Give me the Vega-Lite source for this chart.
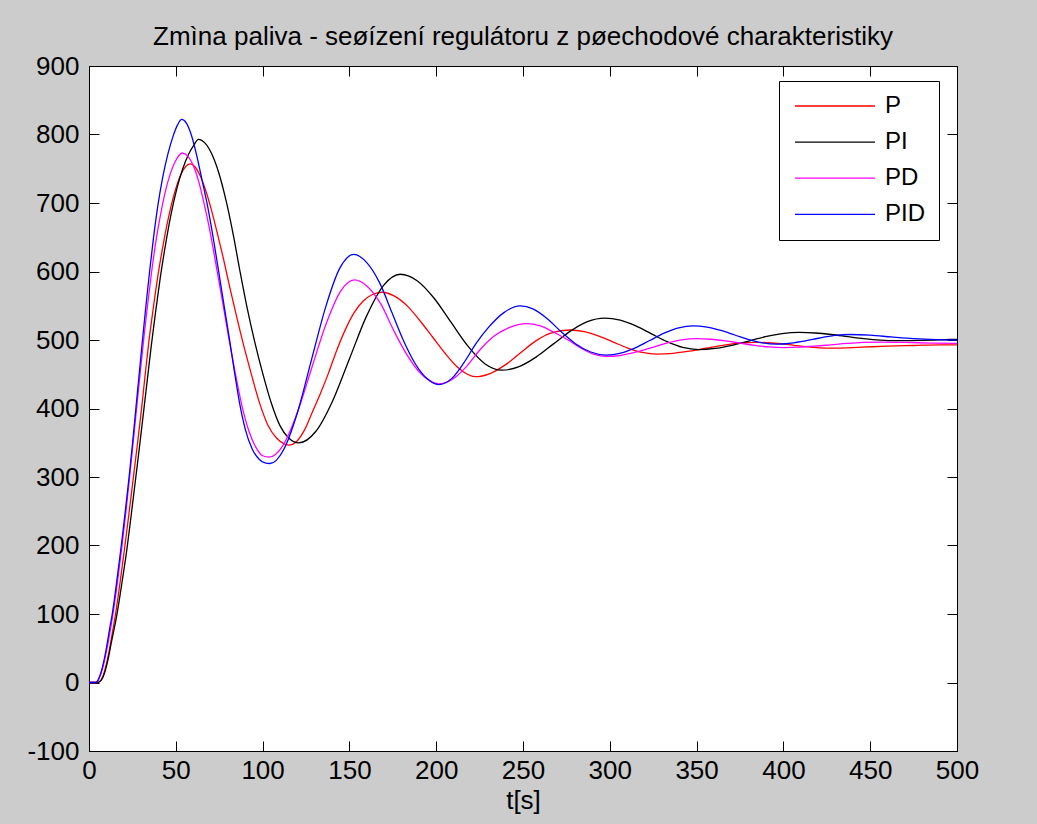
{
 "$schema": "https://vega.github.io/schema/vega-lite/v6.json",
 "width": 868, "height": 685,
 "autosize": {"type": "none"},
 "padding": {"left": 89, "top": 66, "right": 80, "bottom": 73},
 "background": "#cccccc",
 "config": {"view": {"fill": "white", "stroke": "black", "strokeWidth": 1}, "font": "Liberation Sans"},
 "title": {"text": "Zmìna paliva - seøízení regulátoru z pøechodové charakteristiky", "fontSize": 26, "fontWeight": "normal", "color": "black", "offset": 3},
 "data": {"values": [
  {"s":"P","t":0,"v":0},{"s":"P","t":5,"v":0},{"s":"P","t":7,"v":4},{"s":"P","t":9,"v":17},{"s":"P","t":11,"v":38},{"s":"P","t":13,"v":66},{"s":"P","t":15.3,"v":100},{"s":"P","t":18,"v":148},{"s":"P","t":20.5,"v":196},{"s":"P","t":23,"v":246},{"s":"P","t":25.3,"v":294},{"s":"P","t":27.8,"v":346},{"s":"P","t":30.2,"v":398},{"s":"P","t":32.3,"v":448},{"s":"P","t":34.4,"v":496},{"s":"P","t":37,"v":546},{"s":"P","t":39.7,"v":594},{"s":"P","t":43,"v":643},{"s":"P","t":46.5,"v":687},{"s":"P","t":50,"v":721},{"s":"P","t":53,"v":742},{"s":"P","t":56,"v":754},{"s":"P","t":58.4,"v":757},{"s":"P","t":61,"v":753},{"s":"P","t":64,"v":740},{"s":"P","t":67,"v":720},{"s":"P","t":70.5,"v":690},{"s":"P","t":74,"v":655},{"s":"P","t":77.5,"v":618},{"s":"P","t":81,"v":578},{"s":"P","t":84.5,"v":540},{"s":"P","t":88.5,"v":498},{"s":"P","t":93,"v":455},{"s":"P","t":98,"v":410},{"s":"P","t":103,"v":376},{"s":"P","t":108,"v":357},{"s":"P","t":112,"v":349},{"s":"P","t":115.1,"v":346.5},{"s":"P","t":120,"v":353},{"s":"P","t":124,"v":368},{"s":"P","t":128.7,"v":395},{"s":"P","t":133,"v":420},{"s":"P","t":138,"v":452},{"s":"P","t":143,"v":487},{"s":"P","t":148,"v":517},{"s":"P","t":153,"v":541},{"s":"P","t":158,"v":557},{"s":"P","t":163,"v":566},{"s":"P","t":168.8,"v":569.7},{"s":"P","t":176,"v":564},{"s":"P","t":184,"v":548},{"s":"P","t":191,"v":527},{"s":"P","t":198,"v":504},{"s":"P","t":205,"v":481},{"s":"P","t":212,"v":461},{"s":"P","t":218,"v":450},{"s":"P","t":222.4,"v":446.4},{"s":"P","t":231,"v":451},{"s":"P","t":240,"v":464},{"s":"P","t":249,"v":482},{"s":"P","t":257,"v":498},{"s":"P","t":266,"v":510},{"s":"P","t":277,"v":514.6},{"s":"P","t":285.3,"v":512.2},{"s":"P","t":293.7,"v":505.8},{"s":"P","t":302,"v":497},{"s":"P","t":310.3,"v":488.3},{"s":"P","t":318.7,"v":481.8},{"s":"P","t":327,"v":479.5},{"s":"P","t":336.5,"v":480.6},{"s":"P","t":346,"v":483.8},{"s":"P","t":355.5,"v":488},{"s":"P","t":365,"v":492.3},{"s":"P","t":374.5,"v":495.5},{"s":"P","t":384,"v":496.6},{"s":"P","t":391.3,"v":496},{"s":"P","t":398.7,"v":494.5},{"s":"P","t":406,"v":492.3},{"s":"P","t":413.3,"v":490.2},{"s":"P","t":420.7,"v":488.6},{"s":"P","t":428,"v":488},{"s":"P","t":445,"v":489.5},{"s":"P","t":460,"v":491},{"s":"P","t":475,"v":492},{"s":"P","t":490,"v":493},{"s":"P","t":500,"v":493},
  {"s":"PI","t":0,"v":0},{"s":"PI","t":5,"v":0},{"s":"PI","t":7,"v":3},{"s":"PI","t":9,"v":14},{"s":"PI","t":11,"v":34},{"s":"PI","t":13,"v":60},{"s":"PI","t":16,"v":98},{"s":"PI","t":19,"v":146},{"s":"PI","t":21.8,"v":194},{"s":"PI","t":24,"v":238},{"s":"PI","t":26.4,"v":288},{"s":"PI","t":28.8,"v":338},{"s":"PI","t":31.2,"v":390},{"s":"PI","t":33.5,"v":440},{"s":"PI","t":35.8,"v":490},{"s":"PI","t":38.3,"v":540},{"s":"PI","t":41,"v":590},{"s":"PI","t":44,"v":638},{"s":"PI","t":47.3,"v":684},{"s":"PI","t":50.5,"v":720},{"s":"PI","t":54,"v":750},{"s":"PI","t":57.5,"v":772},{"s":"PI","t":60.5,"v":785},{"s":"PI","t":63,"v":793},{"s":"PI","t":67,"v":787},{"s":"PI","t":71,"v":770},{"s":"PI","t":75,"v":742},{"s":"PI","t":79,"v":703},{"s":"PI","t":83,"v":655},{"s":"PI","t":87,"v":600},{"s":"PI","t":91,"v":548},{"s":"PI","t":95.5,"v":497},{"s":"PI","t":100,"v":452},{"s":"PI","t":105,"v":408},{"s":"PI","t":110,"v":375},{"s":"PI","t":115,"v":357},{"s":"PI","t":120.9,"v":349.9},{"s":"PI","t":130.6,"v":366.4},{"s":"PI","t":140.4,"v":411.4},{"s":"PI","t":150.1,"v":473},{"s":"PI","t":159.8,"v":534.5},{"s":"PI","t":169.6,"v":579.5},{"s":"PI","t":179.3,"v":596},{"s":"PI","t":189,"v":586.6},{"s":"PI","t":198.8,"v":561},{"s":"PI","t":208.5,"v":526},{"s":"PI","t":218.3,"v":491},{"s":"PI","t":228,"v":465.4},{"s":"PI","t":237.8,"v":456},{"s":"PI","t":247.7,"v":461.1},{"s":"PI","t":257.5,"v":475},{"s":"PI","t":267.4,"v":494},{"s":"PI","t":277.3,"v":513},{"s":"PI","t":287.1,"v":526.9},{"s":"PI","t":297,"v":532},{"s":"PI","t":306,"v":528.9},{"s":"PI","t":315,"v":520.5},{"s":"PI","t":324,"v":509},{"s":"PI","t":333,"v":497.5},{"s":"PI","t":342,"v":489.1},{"s":"PI","t":351,"v":486},{"s":"PI","t":360.7,"v":487.7},{"s":"PI","t":370.3,"v":492.3},{"s":"PI","t":380,"v":498.5},{"s":"PI","t":389.7,"v":504.8},{"s":"PI","t":399.3,"v":509.3},{"s":"PI","t":409,"v":511},{"s":"PI","t":418.3,"v":510.2},{"s":"PI","t":427.7,"v":508},{"s":"PI","t":437,"v":505},{"s":"PI","t":446.3,"v":502},{"s":"PI","t":455.7,"v":499.8},{"s":"PI","t":465,"v":499},{"s":"PI","t":480,"v":499.5},{"s":"PI","t":490,"v":500.3},{"s":"PI","t":500,"v":501},
  {"s":"PD","t":0,"v":0},{"s":"PD","t":4,"v":0},{"s":"PD","t":6,"v":7},{"s":"PD","t":8,"v":22},{"s":"PD","t":10,"v":45},{"s":"PD","t":12,"v":72},{"s":"PD","t":13.8,"v":100},{"s":"PD","t":16.3,"v":145},{"s":"PD","t":18.8,"v":195},{"s":"PD","t":21.2,"v":248},{"s":"PD","t":23.4,"v":300},{"s":"PD","t":25.5,"v":352},{"s":"PD","t":27.6,"v":405},{"s":"PD","t":29.6,"v":455},{"s":"PD","t":31.6,"v":503},{"s":"PD","t":33.7,"v":550},{"s":"PD","t":35.9,"v":596},{"s":"PD","t":38.3,"v":640},{"s":"PD","t":41,"v":680},{"s":"PD","t":44,"v":717},{"s":"PD","t":47,"v":744},{"s":"PD","t":50,"v":762},{"s":"PD","t":53.7,"v":773},{"s":"PD","t":57,"v":768},{"s":"PD","t":60,"v":755},{"s":"PD","t":63,"v":733},{"s":"PD","t":66.5,"v":697},{"s":"PD","t":70,"v":655},{"s":"PD","t":73.5,"v":605},{"s":"PD","t":77,"v":555},{"s":"PD","t":80.5,"v":503},{"s":"PD","t":84,"v":455},{"s":"PD","t":88,"v":405},{"s":"PD","t":92,"v":368},{"s":"PD","t":96,"v":344},{"s":"PD","t":100,"v":331},{"s":"PD","t":103.6,"v":329},{"s":"PD","t":111.8,"v":346.3},{"s":"PD","t":120,"v":393.7},{"s":"PD","t":128.2,"v":458.4},{"s":"PD","t":136.5,"v":523},{"s":"PD","t":144.7,"v":570.4},{"s":"PD","t":152.9,"v":587.7},{"s":"PD","t":160,"v":579},{"s":"PD","t":168,"v":553},{"s":"PD","t":175.5,"v":514},{"s":"PD","t":183,"v":479},{"s":"PD","t":190,"v":454},{"s":"PD","t":196,"v":441},{"s":"PD","t":201.3,"v":436},{"s":"PD","t":209,"v":442},{"s":"PD","t":217,"v":460},{"s":"PD","t":225,"v":485},{"s":"PD","t":233,"v":505},{"s":"PD","t":242,"v":518},{"s":"PD","t":252,"v":524},{"s":"PD","t":260,"v":520.5},{"s":"PD","t":268,"v":511},{"s":"PD","t":276,"v":500},{"s":"PD","t":283.5,"v":488},{"s":"PD","t":291,"v":479},{"s":"PD","t":298,"v":476},{"s":"PD","t":306.7,"v":477.7},{"s":"PD","t":315.3,"v":482.5},{"s":"PD","t":324,"v":489},{"s":"PD","t":332.7,"v":495.5},{"s":"PD","t":341.3,"v":500.3},{"s":"PD","t":350,"v":502},{"s":"PD","t":358.3,"v":501.1},{"s":"PD","t":366.7,"v":498.8},{"s":"PD","t":375,"v":495.5},{"s":"PD","t":383.3,"v":492.3},{"s":"PD","t":391.7,"v":489.9},{"s":"PD","t":400,"v":489},{"s":"PD","t":409.2,"v":489.5},{"s":"PD","t":418.3,"v":491},{"s":"PD","t":427.5,"v":493},{"s":"PD","t":436.7,"v":495},{"s":"PD","t":445.8,"v":496.5},{"s":"PD","t":455,"v":497},{"s":"PD","t":470,"v":496.5},{"s":"PD","t":485,"v":495.5},{"s":"PD","t":500,"v":495},
  {"s":"PID","t":0,"v":0},{"s":"PID","t":4,"v":0},{"s":"PID","t":6,"v":8},{"s":"PID","t":8,"v":25},{"s":"PID","t":10,"v":50},{"s":"PID","t":12,"v":80},{"s":"PID","t":13.4,"v":100},{"s":"PID","t":16,"v":148},{"s":"PID","t":18.6,"v":200},{"s":"PID","t":21,"v":252},{"s":"PID","t":23.1,"v":300},{"s":"PID","t":25.1,"v":350},{"s":"PID","t":27,"v":400},{"s":"PID","t":28.9,"v":450},{"s":"PID","t":30.8,"v":500},{"s":"PID","t":32.8,"v":550},{"s":"PID","t":34.9,"v":600},{"s":"PID","t":37.1,"v":648},{"s":"PID","t":39.6,"v":695},{"s":"PID","t":42.5,"v":738},{"s":"PID","t":45.5,"v":772},{"s":"PID","t":48.5,"v":798},{"s":"PID","t":51,"v":814},{"s":"PID","t":53.4,"v":822},{"s":"PID","t":56,"v":817},{"s":"PID","t":59,"v":799},{"s":"PID","t":62,"v":770},{"s":"PID","t":65,"v":735},{"s":"PID","t":68.5,"v":693},{"s":"PID","t":71.5,"v":650},{"s":"PID","t":74.5,"v":603},{"s":"PID","t":77.7,"v":552},{"s":"PID","t":80.8,"v":503},{"s":"PID","t":83.7,"v":455},{"s":"PID","t":86.8,"v":407},{"s":"PID","t":90,"v":370},{"s":"PID","t":94,"v":341},{"s":"PID","t":98,"v":326},{"s":"PID","t":101,"v":321},{"s":"PID","t":104.2,"v":319.7},{"s":"PID","t":112.2,"v":340.2},{"s":"PID","t":120.3,"v":396},{"s":"PID","t":128.3,"v":472.4},{"s":"PID","t":136.4,"v":548.7},{"s":"PID","t":144.4,"v":604.5},{"s":"PID","t":152.5,"v":625},{"s":"PID","t":160,"v":613},{"s":"PID","t":167.5,"v":583},{"s":"PID","t":174.5,"v":540},{"s":"PID","t":181,"v":500},{"s":"PID","t":188,"v":465},{"s":"PID","t":195,"v":443},{"s":"PID","t":201.3,"v":435},{"s":"PID","t":209,"v":444},{"s":"PID","t":216,"v":467},{"s":"PID","t":223,"v":495},{"s":"PID","t":230,"v":518},{"s":"PID","t":239,"v":540},{"s":"PID","t":248.3,"v":549.7},{"s":"PID","t":256,"v":545},{"s":"PID","t":264,"v":531},{"s":"PID","t":272,"v":512},{"s":"PID","t":280,"v":495},{"s":"PID","t":289,"v":482.5},{"s":"PID","t":298,"v":478},{"s":"PID","t":306.3,"v":480.8},{"s":"PID","t":314.7,"v":488.6},{"s":"PID","t":323,"v":499.3},{"s":"PID","t":331.3,"v":509.9},{"s":"PID","t":339.7,"v":517.7},{"s":"PID","t":348,"v":520.5},{"s":"PID","t":356,"v":518.7},{"s":"PID","t":364,"v":513.9},{"s":"PID","t":372,"v":507.3},{"s":"PID","t":380,"v":500.6},{"s":"PID","t":388,"v":495.8},{"s":"PID","t":396,"v":494},{"s":"PID","t":403,"v":494.9},{"s":"PID","t":410,"v":497.5},{"s":"PID","t":417,"v":501},{"s":"PID","t":424,"v":504.5},{"s":"PID","t":431,"v":507.1},{"s":"PID","t":438,"v":508},{"s":"PID","t":450,"v":507},{"s":"PID","t":462,"v":504.5},{"s":"PID","t":475,"v":502},{"s":"PID","t":488,"v":500.5},{"s":"PID","t":500,"v":500}
 ]},
 "layer": [
  {
   "mark": {"type": "line", "interpolate": "monotone", "strokeWidth": 1.3},
   "encoding": {
    "x": {"field": "t", "type": "quantitative", "scale": {"domain": [0, 500], "nice": false},
     "axis": {"orient": "bottom", "values": [0,50,100,150,200,250,300,350,400,450,500], "tickSize": -10, "labelPadding": 16, "labelFontSize": 26, "labelColor": "black", "tickColor": "black", "domainColor": "black", "grid": false, "labelFlush": false, "labelOverlap": false, "title": "t[s]", "titleFontSize": 26, "titleFontWeight": "normal", "titleColor": "black", "titlePadding": 4}},
    "y": {"field": "v", "type": "quantitative", "scale": {"domain": [-100, 900], "nice": false},
     "axis": {"orient": "left", "values": [-100,0,100,200,300,400,500,600,700,800,900], "labelExpr": "datum.value < 0 ? '-' + abs(datum.value) : '' + datum.value", "tickSize": -10, "labelPadding": 20, "labelFontSize": 26, "labelColor": "black", "tickColor": "black", "domainColor": "black", "grid": false, "labelFlush": false, "labelOverlap": false, "title": null}},
    "color": {"field": "s", "type": "nominal", "sort": ["P", "PI", "PD", "PID"],
     "scale": {"domain": ["P", "PI", "PD", "PID"], "range": ["#ff0000", "#000000", "#ff00ff", "#0000ff"]},
     "legend": {"title": null, "orient": "none", "legendX": 690, "legendY": 15, "fillColor": "white", "strokeColor": "black", "padding": 13, "symbolType": "M-4,0H4", "symbolSize": 400, "symbolStrokeWidth": 1.3, "symbolOffset": 31, "labelFontSize": 24, "labelColor": "black", "labelOffset": 38, "rowPadding": 12.1}}
   }
  },
  {
   "mark": {"type": "line", "strokeOpacity": 0},
   "encoding": {
    "x": {"field": "t", "type": "quantitative", "axis": {"orient": "top", "values": [0,50,100,150,200,250,300,350,400,450,500], "tickSize": -10, "tickColor": "black", "labels": false, "domain": false, "grid": false, "title": null}},
    "y": {"field": "v", "type": "quantitative", "axis": {"orient": "right", "values": [-100,0,100,200,300,400,500,600,700,800,900], "tickSize": -10, "tickColor": "black", "labels": false, "domain": false, "grid": false, "title": null}},
    "detail": {"field": "s"}
   }
  }
 ],
 "resolve": {"axis": {"x": "independent", "y": "independent"}}
}
